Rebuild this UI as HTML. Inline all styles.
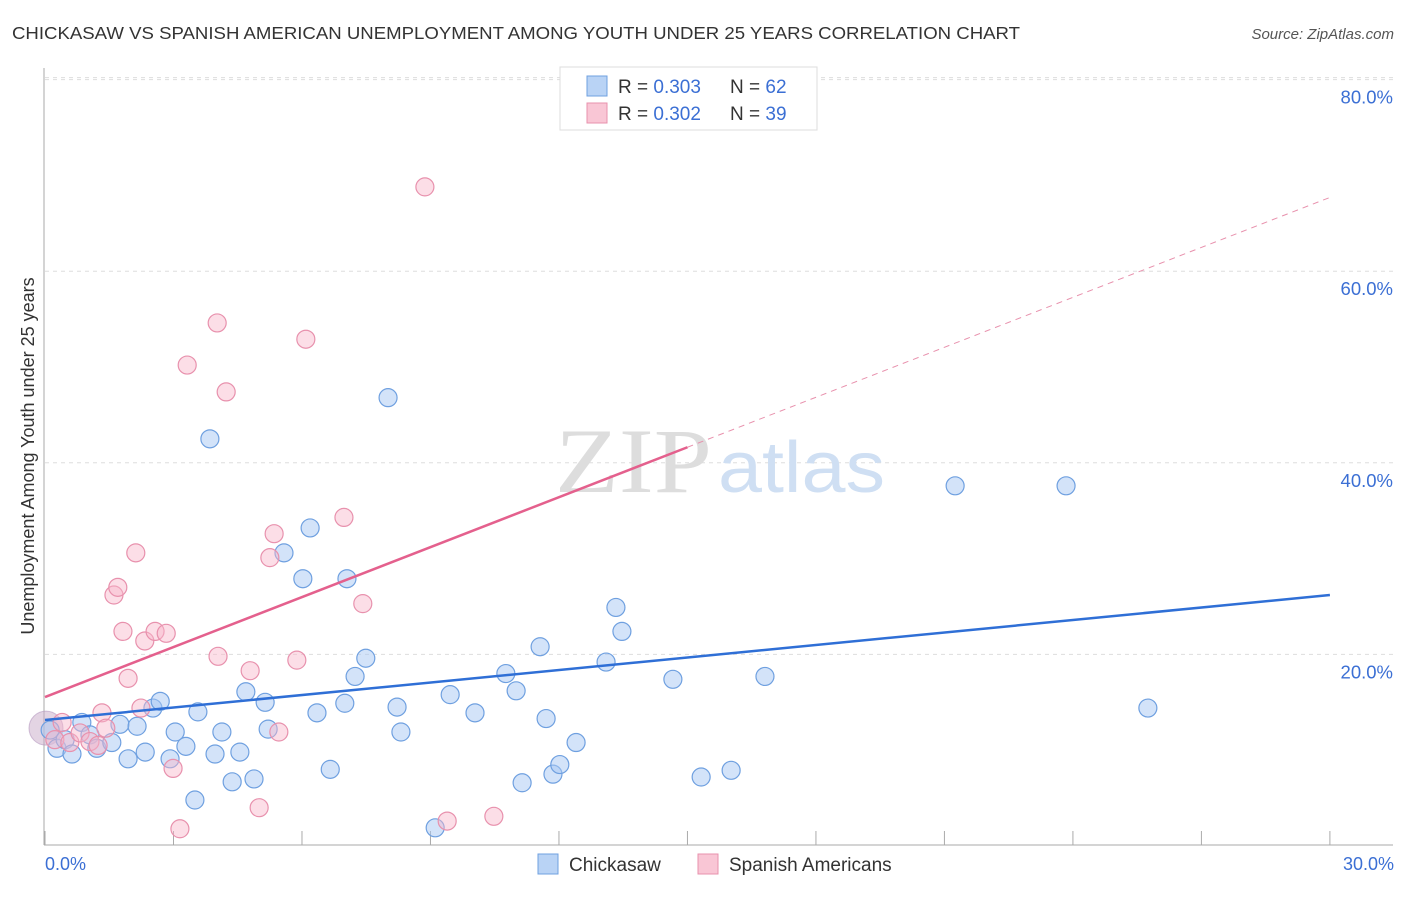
<!DOCTYPE html>
<html><head><meta charset="utf-8"><style>
body{margin:0;background:#fff;font-family:"Liberation Sans",sans-serif}
</style></head><body>
<svg width="1406" height="892" xmlns="http://www.w3.org/2000/svg">
<text x="12" y="39" font-size="17.5" fill="#333" textLength="1008" lengthAdjust="spacingAndGlyphs">CHICKASAW VS SPANISH AMERICAN UNEMPLOYMENT AMONG YOUTH UNDER 25 YEARS CORRELATION CHART</text>
<text x="1394" y="39" font-size="15" fill="#555" font-style="italic" text-anchor="end">Source: ZipAtlas.com</text>
<g id="grid"></g>
<g><text x="555" y="492" font-size="92" font-family="Liberation Serif" fill="#ddd" textLength="157" lengthAdjust="spacingAndGlyphs">ZIP</text><text x="718" y="492" font-size="72" fill="#cfdff3" textLength="167" lengthAdjust="spacingAndGlyphs">atlas</text></g>
<g id="marks"></g>
<text transform="translate(34,456) rotate(-90)" font-size="18" fill="#333" text-anchor="middle">Unemployment Among Youth under 25 years</text>
<text x="45" y="870" font-size="18" fill="#3b6fd4">0.0%</text>
<text x="1394" y="870" font-size="18" fill="#3b6fd4" text-anchor="end">30.0%</text>
<g>
<rect x="560" y="67" width="257" height="63" fill="#fff" stroke="#ddd"/>
<rect x="587" y="76" width="20" height="20" fill="#b9d3f5" stroke="#6fa0e0"/>
<rect x="587" y="103" width="20" height="20" fill="#f9c6d5" stroke="#e891ad"/>
<text x="618" y="93" font-size="19" fill="#333">R = <tspan fill="#3b6fd4">0.303</tspan></text>
<text x="730" y="93" font-size="19" fill="#333">N = <tspan fill="#3b6fd4">62</tspan></text>
<text x="618" y="120" font-size="19" fill="#333">R = <tspan fill="#3b6fd4">0.302</tspan></text>
<text x="730" y="120" font-size="19" fill="#333">N = <tspan fill="#3b6fd4">39</tspan></text>
</g>
<g>
<rect x="538" y="854" width="20" height="20" fill="#b9d3f5" stroke="#6fa0e0"/>
<text x="569" y="871" font-size="19" fill="#333">Chickasaw</text>
<rect x="698" y="854" width="20" height="20" fill="#f9c6d5" stroke="#e891ad"/>
<text x="729" y="871" font-size="19" fill="#333">Spanish Americans</text>
</g>
</svg>
<script>
const yTicks=[20,40,60,80];
const yTickLabels=["20.0%","40.0%","60.0%","80.0%"];
const xTicks=[0,3,6,9,12,15,18,21,24,27,30];
const blueX=[0.12,0.28,0.47,0.63,0.86,1.05,1.21,1.56,1.75,1.94,2.15,2.34,2.52,2.69,2.92,3.04,3.29,3.50,3.57,3.85,3.97,4.13,4.37,4.55,4.69,4.88,5.14,5.21,5.58,6.02,6.19,6.35,6.66,7.00,7.05,7.24,7.49,8.01,8.22,8.31,9.11,9.46,10.04,10.76,11.00,11.14,11.56,11.70,11.86,12.02,12.40,13.10,13.33,13.47,14.66,15.32,16.02,16.81,21.25,23.84,25.75];
const blueY=[12.1,10.2,11.1,9.6,12.9,11.6,10.2,10.8,12.7,9.1,12.5,9.8,14.4,15.1,9.1,11.9,10.4,4.8,14.0,42.5,9.6,11.9,6.7,9.8,16.1,7.0,15.0,12.2,30.6,27.9,33.2,13.9,8.0,14.9,27.9,17.7,19.6,46.8,14.5,11.9,1.9,15.8,13.9,18.0,16.2,6.6,20.8,13.3,7.5,8.5,10.8,19.2,24.9,22.4,17.4,7.2,7.9,17.7,37.6,37.6,14.4];
const pinkX=[0.23,0.40,0.58,0.82,1.05,1.24,1.33,1.42,1.61,1.70,1.82,1.94,2.12,2.24,2.33,2.57,2.83,2.99,3.15,3.32,4.02,4.04,4.23,4.79,5.00,5.25,5.35,5.46,5.88,6.09,6.98,7.42,8.87,9.39,10.48];
const pinkY=[11.1,12.9,10.8,11.8,10.9,10.5,13.9,12.3,26.2,27.0,22.4,17.5,30.6,14.4,21.4,22.4,22.2,8.1,1.8,50.2,54.6,19.8,47.4,18.3,4.0,30.1,32.6,11.9,19.4,52.9,34.3,25.3,68.8,2.6,3.1];
const blueTrend=[13.15,26.2];
const pinkTrend=[15.55,67.7];
const pinkSolidEnd=15;
const X=v=>45+v*42.83, Y=v=>846-v*9.58;
const NS="http://www.w3.org/2000/svg";
function mk(p,t,a){const e=document.createElementNS(NS,t);for(const k in a)e.setAttribute(k,a[k]);p.appendChild(e);return e;}
const grid=document.getElementById('grid'), marks=document.getElementById('marks');
yTicks.forEach((t,i)=>{
 const l=mk(grid,'line',{x1:45,x2:1393,y1:Y(t),y2:Y(t),stroke:'#ddd','stroke-dasharray':'4,4'});
 
 
 const tx=mk(grid,'text',{x:1393,y:Y(t)+24,'font-size':18.5,fill:'#3b6fd4','text-anchor':'end'});
 tx.textContent=yTickLabels[i];
 
 
});
const tl=mk(grid,'line',{x1:45,x2:1393,y1:Y(80)-2,y2:Y(80)-2,stroke:'#ddd','stroke-dasharray':'4,4'});


const ax=mk(grid,'line',{x1:44,x2:1393,y1:845,y2:845,stroke:'#aaa'});


const ay=mk(grid,'line',{x1:44,x2:44,y1:68,y2:845,stroke:'#aaa'});


xTicks.forEach(t=>{
 const l=mk(grid,'line',{x1:X(t),x2:X(t),y1:831,y2:845,stroke:'#aaa'});
 
 
});
function pts(xs,ys,fill,stroke,name){
 xs.forEach((x,i)=>{
  const c=mk(marks,'circle',{cx:X(x),cy:Y(ys[i]),r:9,fill:fill,stroke:stroke,'stroke-width':1.2});
  
  
 });
}
const big=mk(marks,'circle',{cx:46,cy:Y(12.3),r:17,fill:'rgba(200,170,200,0.5)',stroke:'rgba(180,150,190,0.6)'});


pts(blueX,blueY,'rgba(168,200,243,0.5)','#6fa0e0','chickasaw-point');
pts(pinkX,pinkY,'rgba(248,182,202,0.45)','#e891ad','spanish-point');
const bl=mk(marks,'line',{x1:X(0),y1:Y(blueTrend[0]),x2:X(30),y2:Y(blueTrend[1]),stroke:'#2f6fd6','stroke-width':2.5});


const pm=pinkTrend[0]+(pinkTrend[1]-pinkTrend[0])*pinkSolidEnd/30;
const pl=mk(marks,'line',{x1:X(0),y1:Y(pinkTrend[0]),x2:X(pinkSolidEnd),y2:Y(pm),stroke:'#e4608d','stroke-width':2.5});


const pd=mk(marks,'line',{x1:X(pinkSolidEnd),y1:Y(pm),x2:X(30),y2:Y(pinkTrend[1]),stroke:'#e891ad','stroke-width':1,'stroke-dasharray':'6,5'});


</script>
</body></html>
